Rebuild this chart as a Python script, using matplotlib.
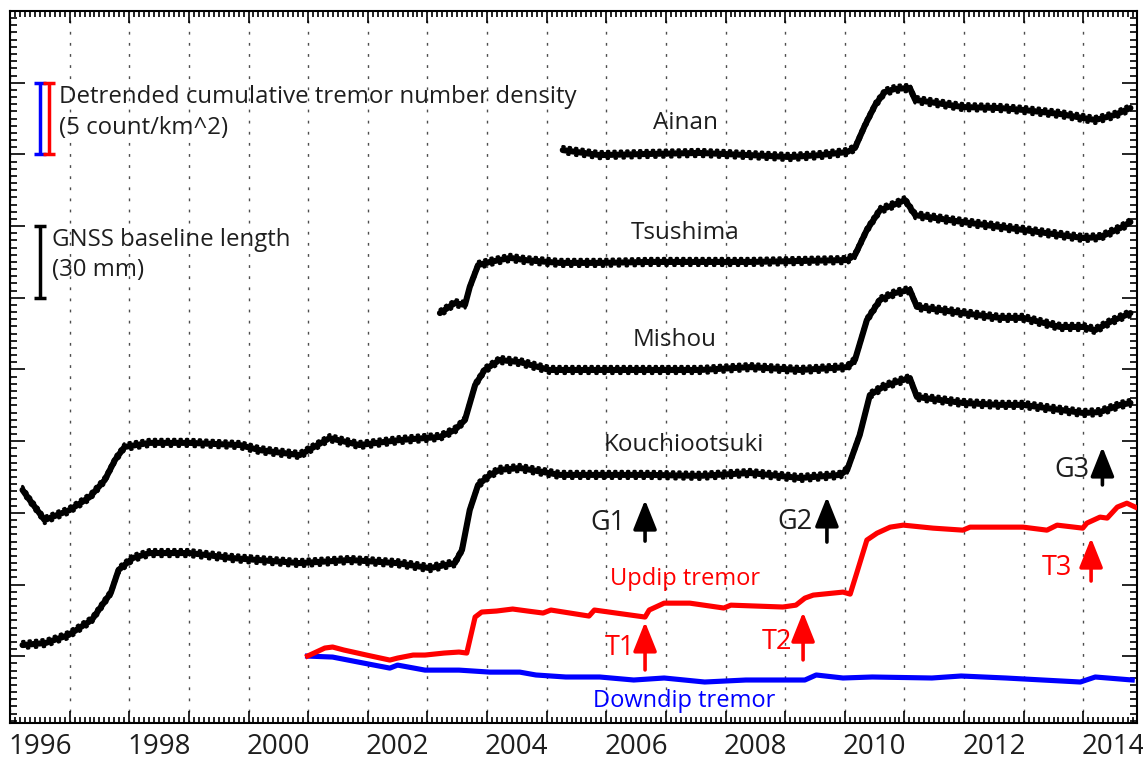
import matplotlib
matplotlib.use("Agg")
import matplotlib.pyplot as plt
from matplotlib.ticker import MultipleLocator

plt.rcParams['font.family'] = ['Open Sans', 'DejaVu Sans']

# GNSS baseline length, mm (each station shifted for display)
kouchi_year = [1996.21, 1996.60, 1996.98, 1997.37, 1997.69, 1997.82, 1998.06, 1998.34, 1999.01,
               1999.73, 2000.86, 2001.70, 2002.49, 2003.04, 2003.46, 2003.58, 2003.71, 2003.85,
               2004.05, 2004.21, 2004.55, 2005.22, 2005.89, 2006.73, 2007.57, 2008.41, 2009.25,
               2009.92, 2010.04, 2010.25, 2010.42, 2010.64, 2010.87, 2011.09, 2011.21, 2011.98,
               2012.60, 2012.99, 2013.61, 2014.00, 2014.28, 2014.62, 2014.79]
kouchi_mm = [34.7, 35.6, 38.9, 45.2, 56.5, 66.1, 71.1, 73.2, 73.2,
             71.1, 69.0, 70.3, 69.0, 66.9, 69.0, 74.5, 91.2, 101.7,
             105.9, 108.0, 108.8, 105.9, 105.9, 105.9, 105.5, 106.7, 104.6,
             105.9, 108.0, 122.6, 139.3, 142.7, 144.8, 146.4, 138.5, 136.0,
             135.2, 135.2, 133.1, 131.8, 132.2, 135.2, 136.0]

mishou_year = [1996.21, 1996.33, 1996.58, 1997.00, 1997.34, 1997.59, 1997.76, 1997.92, 1998.34,
               1999.01, 1999.85, 2000.18, 2000.86, 2001.36, 2001.86, 2002.54, 2003.21, 2003.46,
               2003.63, 2003.80, 2003.96, 2004.21, 2004.55, 2005.05, 2005.89, 2007.57, 2008.41,
               2009.25, 2010.04, 2010.17, 2010.37, 2010.59, 2010.84, 2011.09, 2011.21, 2011.98,
               2012.60, 2012.99, 2013.61, 2014.00, 2014.20, 2014.45, 2014.79]
mishou_mm = [99.6, 95.4, 87.0, 91.2, 96.7, 103.8, 112.1, 117.6, 119.3,
             119.3, 118.4, 116.3, 114.2, 121.3, 118.4, 120.5, 121.8, 124.7,
             128.9, 143.5, 149.8, 154.0, 153.1, 149.8, 149.8, 149.8, 151.0,
             149.8, 151.0, 154.0, 170.7, 179.1, 182.0, 183.3, 176.2, 173.6,
             171.6, 171.6, 167.8, 167.8, 166.5, 169.9, 173.6]

tsushima_year = [2003.21, 2003.46, 2003.63, 2003.71, 2003.85, 2004.05, 2004.39, 2004.63, 2005.22,
                 2005.89, 2006.73, 2007.57, 2008.41, 2009.25, 2010.04, 2010.17, 2010.37, 2010.59,
                 2010.81, 2011.01, 2011.18, 2011.98, 2012.99, 2013.61, 2014.00, 2014.28, 2014.62,
                 2014.79]
tsushima_mm = [173.6, 177.8, 177.0, 184.5, 193.7, 195.0, 196.7, 195.8, 194.6,
               194.6, 195.0, 195.0, 195.0, 195.4, 195.8, 197.9, 208.4, 216.7,
               218.8, 220.9, 214.6, 211.7, 208.4, 206.3, 205.0, 205.4, 209.2,
               211.7]

ainan_year = [2005.27, 2005.89, 2006.73, 2007.57, 2008.41, 2009.08, 2009.58, 2010.04, 2010.17,
              2010.34, 2010.51, 2010.67, 2010.84, 2011.09, 2011.18, 2011.43, 2011.98, 2012.60,
              2012.99, 2013.61, 2014.00, 2014.20, 2014.53, 2014.79]
ainan_mm = [241.8, 239.7, 240.2, 240.6, 239.7, 238.9, 239.7, 241.0, 242.7,
            252.3, 260.7, 266.1, 267.4, 267.8, 262.8, 261.9, 259.8, 259.4,
            258.6, 256.9, 255.2, 254.4, 256.5, 259.4]

# Detrended cumulative tremor number density (count/km^2)
updip_year = [2000.99, 2001.28, 2001.41, 2001.60, 2001.98, 2002.37, 2002.50, 2002.76, 2002.96,
              2003.28, 2003.53, 2003.66, 2003.80, 2003.91, 2004.16, 2004.43, 2004.68, 2004.94,
              2005.07, 2005.71, 2005.80, 2006.65, 2006.72, 2006.97, 2007.40, 2007.97, 2008.09,
              2008.96, 2009.18, 2009.33, 2009.47, 2009.97, 2010.09, 2010.20, 2010.37, 2010.54,
              2010.76, 2010.98, 2011.48, 2011.98, 2012.10, 2012.99, 2013.39, 2013.56, 2013.99,
              2014.06, 2014.28, 2014.40, 2014.57, 2014.73, 2014.87]
updip_count = [0.0, 0.56, 0.63, 0.42, 0.07, -0.28, -0.14, 0.07, 0.07,
               0.21, 0.28, 0.21, 2.72, 3.07, 3.14, 3.28, 3.14, 3.00,
               3.21, 2.79, 3.21, 2.72, 3.21, 3.69, 3.69, 3.35, 3.55,
               3.42, 3.55, 4.04, 4.25, 4.46, 4.32, 5.79, 8.09, 8.57,
               8.99, 9.13, 8.92, 8.78, 8.99, 8.99, 8.78, 9.13, 8.92,
               9.27, 9.69, 9.62, 10.39, 10.66, 10.39]

downdip_year = [2000.99, 2001.41, 2001.93, 2002.37, 2002.50, 2002.96, 2003.53, 2004.05, 2004.55,
                2004.82, 2005.32, 2005.89, 2006.46, 2006.97, 2007.65, 2008.34, 2009.33, 2009.52,
                2009.97, 2010.46, 2011.46, 2011.95, 2012.70, 2013.32, 2013.95, 2014.20, 2014.82]
downdip_count = [0.0, -0.07, -0.49, -0.84, -0.63, -0.98, -0.98, -1.12, -1.12,
                 -1.32, -1.46, -1.46, -1.67, -1.53, -1.81, -1.67, -1.67, -1.32,
                 -1.53, -1.46, -1.53, -1.39, -1.53, -1.67, -1.81, -1.46, -1.67]

TREMOR_OFFSET = 30.1   # mm on the plot where tremor curves start
MM_PER_COUNT = 6.0     # 5 count/km^2 drawn as 30 mm

stations = [("Ainan", 2007.32, 253.1), ("Tsushima", 2007.32, 207.1),
            ("Mishou", 2007.14, 162.3), ("Kouchiootsuki", 2007.30, 118.4)]

TXT = '#1e1e1e'

fig = plt.figure(figsize=(11.43, 7.62), dpi=100)
ax = fig.add_axes([0.00875, 0.0512, 0.986, 0.9344])

# GNSS series: solid core plus dotted fringes to look like dense daily points
for yrs, vals in [(kouchi_year, kouchi_mm), (mishou_year, mishou_mm),
                  (tsushima_year, tsushima_mm), (ainan_year, ainan_mm)]:
    ax.plot(yrs, vals, color='black', lw=4.4, solid_joinstyle='round', solid_capstyle='round', zorder=3)
    for off, pat in [(1.5, (0, (0.5, 1.6))), (-1.5, (1.0, (0.5, 2.1)))]:
        ax.plot(yrs, [v + off for v in vals], color='black', lw=2.2, linestyle=pat,
                dash_capstyle='round', zorder=3)

# tremor curves
down_y = [TREMOR_OFFSET + MM_PER_COUNT * c for c in downdip_count]
up_y = [TREMOR_OFFSET + MM_PER_COUNT * c for c in updip_count]
ax.plot(downdip_year, down_y, color='#0000ff', lw=3.7, zorder=4)
ax.plot(updip_year, up_y, color='#ff0000', lw=3.7, zorder=5)

# station names
for name, x, y in stations:
    ax.text(x, y, name, ha='center', va='center', fontsize=17.5, color=TXT)

ax.text(2007.32, 62.4, "Updip tremor", ha='center', va='center', fontsize=17, color='#ff0000')
ax.text(2007.30, 11.3, "Downdip tremor", ha='center', va='center', fontsize=17, color='#0000ff')

# arrows and labels
arrows = [("G1", 2006.65, 78.2, 95.4, 2006.03, 85.8, 'black'),
          ("G2", 2009.70, 77.8, 96.7, 2009.16, 86.2, 'black'),
          ("G3", 2014.32, 101.7, 117.6, 2013.81, 108.0, 'black'),
          ("T1", 2006.65, 24.3, 44.4, 2006.23, 33.5, '#ff0000'),
          ("T2", 2009.30, 28.5, 48.5, 2008.86, 36.0, '#ff0000'),
          ("T3", 2014.13, 61.5, 79.5, 2013.56, 66.9, '#ff0000')]
for lab, ax_x, y0, y1, tx, ty, col in arrows:
    ax.annotate("", xy=(ax_x, y1), xytext=(ax_x, y0),
                arrowprops=dict(arrowstyle='-|>,head_width=0.4,head_length=1.0',
                                lw=2.6, color=col, mutation_scale=18, shrinkA=0, shrinkB=0))
    ax.text(tx, ty, lab, ha='center', va='center', fontsize=19.5,
            color=TXT if col == 'black' else col)

# scale bars
ax.errorbar([1996.50], [255], yerr=15, color='#0000ff', elinewidth=2.5, capsize=4, capthick=2.5)
ax.errorbar([1996.66], [255], yerr=15, color='#ff0000', elinewidth=2.5, capsize=4, capthick=2.5)
ax.errorbar([1996.50], [195], yerr=15, color='black', elinewidth=2.5, capsize=4, capthick=2.5)
ax.text(1996.83, 264.0, "Detrended cumulative tremor number density", va='center', fontsize=17.3, color=TXT)
ax.text(1996.83, 251.0, "(5 count/km^2)", va='center', fontsize=17.3, color=TXT)
ax.text(1996.70, 204.2, "GNSS baseline length", va='center', fontsize=17.3, color=TXT)
ax.text(1996.70, 191.6, "(30 mm)", va='center', fontsize=17.3, color=TXT)

# axes
ax.set_xlim(1996.0, 2014.9)
ax.set_ylim(2.1, 300)
ax.xaxis.set_major_locator(MultipleLocator(1))
ax.xaxis.set_minor_locator(MultipleLocator(1 / 12))
ax.yaxis.set_major_locator(MultipleLocator(30))
ax.yaxis.set_minor_locator(MultipleLocator(3))
ax.tick_params(which='both', direction='in', top=True, right=True,
               labelbottom=False, labelleft=False, width=1.2, color='black')
ax.xaxis.set_tick_params(which='major', length=8.6)
ax.xaxis.set_tick_params(which='minor', length=4)
ax.yaxis.set_tick_params(which='major', length=10.8)
ax.yaxis.set_tick_params(which='minor', length=5)
for s in ax.spines.values():
    s.set_linewidth(1.5)
ax.grid(axis='x', which='major', linestyle=(0, (2, 6)), color='0.3', lw=1.0)

# year labels sit in the middle of each year
for yr in range(1996, 2015, 2):
    ax.text(yr + 0.5, -0.034, str(yr), transform=ax.get_xaxis_transform(),
            ha='center', va='center', fontsize=20, color=TXT)

fig.savefig("out.png", dpi=100)
